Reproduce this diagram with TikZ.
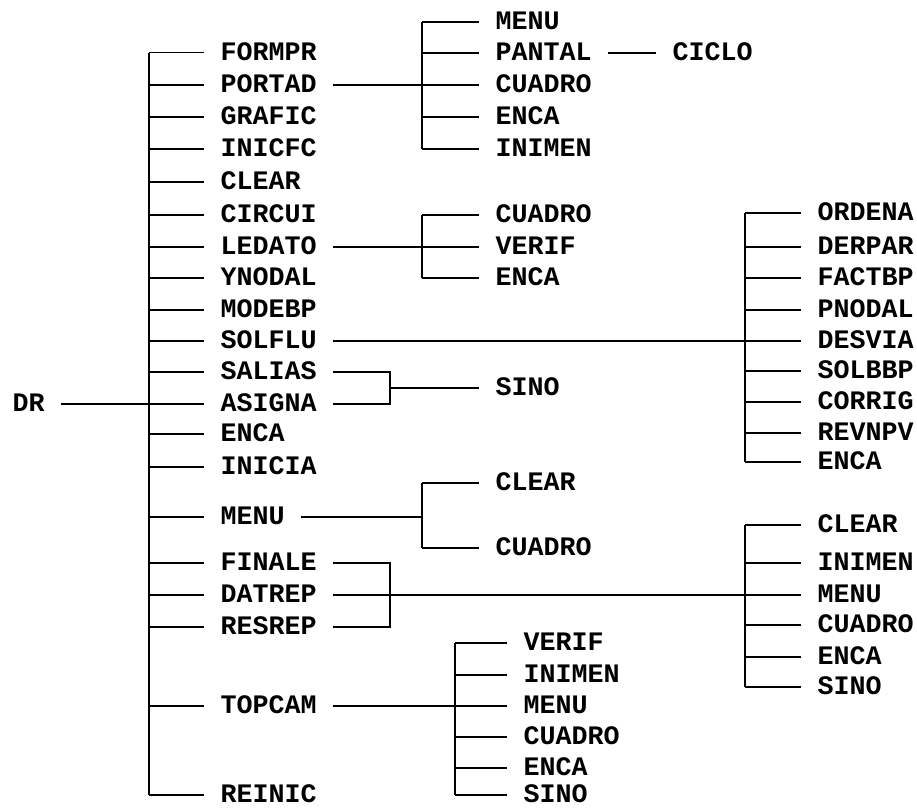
\documentclass[tikz,border=0pt]{standalone}
\usepackage{fontspec}
\setmonofont{Liberation Mono}
\usetikzlibrary{positioning}

\begin{document}
\begin{tikzpicture}[x=1pt, y=-1pt, line width=1.2pt,
    proc/.style={font=\ttfamily\bfseries\fontsize{26.7}{30}\selectfont, anchor=west,
                 inner xsep=16pt, inner ysep=0pt, text height=15pt, text depth=0pt}
  ]
  \useasboundingbox (0,0) rectangle (917,808);

  % main program and its calls
  \node[proc] (dr) at (-4,404) {DR};
  \foreach \n/\y/\t in {formpr/52.7/FORMPR, portad/85/PORTAD, grafic/117/GRAFIC,
      inicfc/149/INICFC, clear/182/CLEAR, circui/215/CIRCUI, ledato/247/LEDATO,
      ynodal/278/YNODAL, modebp/310/MODEBP, solflu/341/SOLFLU, salias/372/SALIAS,
      asigna/404/ASIGNA, enca/434/ENCA, inicia/467/INICIA, menu/517/MENU,
      finale/563/FINALE, datrep/595/DATREP, resrep/627/RESREP, topcam/706/TOPCAM,
      reinic/795/REINIC} {
    \node[proc] (\n) at (204,\y) {\t};
  }
  \coordinate (trunk) at (149,0);
  \draw (trunk |- formpr.west) -- (trunk |- reinic.west);
  \draw (dr.east) -- (trunk |- dr.east);
  \foreach \n in {formpr, portad, grafic, inicfc, clear, circui, ledato, ynodal,
      modebp, solflu, salias, asigna, enca, inicia, menu, finale, datrep, resrep,
      topcam, reinic}
    \draw (trunk |- \n.west) -- (\n.west);

  % PORTAD
  \foreach \n/\y/\t in {ptmenu/22/MENU, ptpantal/53/PANTAL, ptcuadro/85/CUADRO,
      ptenca/117/ENCA, ptinimen/149/INIMEN}
    \node[proc] (\n) at (479,\y) {\t};
  \node[proc] (ciclo) at (656,53) {CICLO};
  \coordinate (bportad) at (422,0);
  \draw (portad.east) -- (bportad |- portad.east);
  \draw (bportad |- ptmenu.west) -- (bportad |- ptinimen.west);
  \foreach \n in {ptmenu, ptpantal, ptcuadro, ptenca, ptinimen}
    \draw (bportad |- \n.west) -- (\n.west);
  \draw (ptpantal.east) -- (ciclo.west);

  % LEDATO
  \foreach \n/\y/\t in {ldcuadro/215/CUADRO, ldverif/247/VERIF, ldenca/278/ENCA}
    \node[proc] (\n) at (479,\y) {\t};
  \coordinate (bledato) at (422,0);
  \draw (ledato.east) -- (bledato |- ledato.east);
  \draw (bledato |- ldcuadro.west) -- (bledato |- ldenca.west);
  \foreach \n in {ldcuadro, ldverif, ldenca}
    \draw (bledato |- \n.west) -- (\n.west);

  % SOLFLU
  \foreach \n/\y/\t in {sfordena/213/ORDENA, sfderpar/247/DERPAR, sffactbp/278/FACTBP,
      sfpnodal/310/PNODAL, sfdesvia/341/DESVIA, sfsolbbp/371/SOLBBP,
      sfcorrig/402/CORRIG, sfrevnpv/433/REVNPV, sfenca/462/ENCA}
    \node[proc] (\n) at (801,\y) {\t};
  \coordinate (bsolflu) at (745,0);
  \draw (solflu.east) -- (bsolflu |- solflu.east);
  \draw (bsolflu |- sfordena.west) -- (bsolflu |- sfenca.west);
  \foreach \n in {sfordena, sfderpar, sffactbp, sfpnodal, sfdesvia, sfsolbbp,
      sfcorrig, sfrevnpv, sfenca}
    \draw (bsolflu |- \n.west) -- (\n.west);

  % SALIAS / ASIGNA
  \node[proc] (sino) at (479,388) {SINO};
  \coordinate (bsalias) at (390,0);
  \draw (salias.east) -- (bsalias |- salias.east) -- (bsalias |- asigna.east) -- (asigna.east);
  \draw (bsalias |- sino.west) -- (sino.west);

  % MENU
  \foreach \n/\y/\t in {mnclear/483/CLEAR, mncuadro/548/CUADRO}
    \node[proc] (\n) at (479,\y) {\t};
  \coordinate (bmenu) at (422,0);
  \draw (menu.east) -- (bmenu |- menu.east);
  \draw (bmenu |- mnclear.west) -- (bmenu |- mncuadro.west);
  \foreach \n in {mnclear, mncuadro}
    \draw (bmenu |- \n.west) -- (\n.west);

  % FINALE / DATREP / RESREP
  \foreach \n/\y/\t in {dtclear/525/CLEAR, dtinimen/563/INIMEN, dtmenu/595/MENU,
      dtcuadro/625/CUADRO, dtenca/657/ENCA, dtsino/687/SINO}
    \node[proc] (\n) at (801,\y) {\t};
  \coordinate (bfinale) at (390,0);
  \coordinate (bdatrep) at (745,0);
  \draw (finale.east) -- (bfinale |- finale.east) -- (bfinale |- resrep.east) -- (resrep.east);
  \draw (datrep.east) -- (bdatrep |- datrep.east);
  \draw (bdatrep |- dtclear.west) -- (bdatrep |- dtsino.west);
  \foreach \n in {dtclear, dtinimen, dtmenu, dtcuadro, dtenca, dtsino}
    \draw (bdatrep |- \n.west) -- (\n.west);

  % TOPCAM
  \foreach \n/\y/\t in {tcverif/643/VERIF, tcinimen/675/INIMEN, tcmenu/706/MENU,
      tccuadro/737/CUADRO, tcenca/768/ENCA, tcsino/795/SINO}
    \node[proc] (\n) at (507,\y) {\t};
  \coordinate (btopcam) at (455,0);
  \draw (topcam.east) -- (btopcam |- topcam.east);
  \draw (btopcam |- tcverif.west) -- (btopcam |- tcsino.west);
  \foreach \n in {tcverif, tcinimen, tcmenu, tccuadro, tcenca, tcsino}
    \draw (btopcam |- \n.west) -- (\n.west);
\end{tikzpicture}
\end{document}
